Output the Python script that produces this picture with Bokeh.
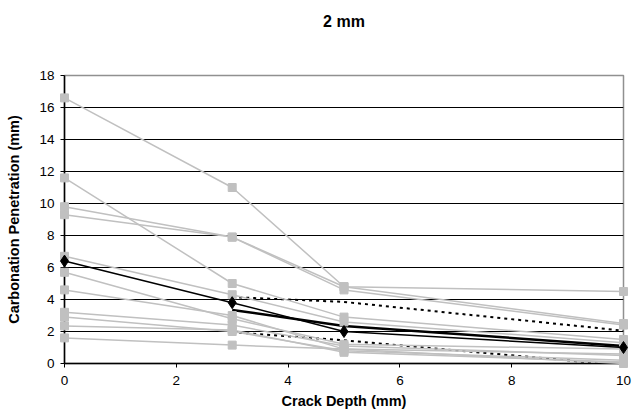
from bokeh.plotting import figure
from bokeh.models import Range1d, FixedTicker, Title
from bokeh.embed import file_html
from bokeh.resources import INLINE

# Crack depth (mm) at which carbonation was measured
crack_depth = [0, 3, 5, 10]

# Individual specimens: carbonation penetration (mm)
spec_01 = [16.6, 11.0, 4.8, 2.5]
spec_02 = [11.6, 5.0, 2.9, 1.5]
spec_03 = [9.8, 7.9, 4.8, 4.5]
spec_04 = [9.3, 7.9, 4.6, 2.4]
spec_05 = [6.7, 4.3, 2.6, 1.3]
spec_06 = [5.7, 2.8, 1.2, 0.9]
spec_07 = [4.6, 3.0, 0.9, 0.6]
spec_08 = [3.2, 2.4, 1.1, 0.5]
spec_09 = [2.9, 2.0, 0.8, 0.2]
spec_10 = [2.35, 2.1, 0.7, 0.1]
spec_11 = [1.6, 1.15, 0.9, 0.0]
specimens = [spec_01, spec_02, spec_03, spec_04, spec_05, spec_06,
             spec_07, spec_08, spec_09, spec_10, spec_11]

# Average of all specimens
mean_pen = [6.4, 3.8, 2.0, 1.0]

# Fitted curve and its band (from 3 mm crack depth onwards)
fit_depth = [3, 5, 10]
fit_pen = [3.35, 2.35, 1.1]
band_upper = [4.15, 3.85, 2.05]
band_lower = [1.95, 1.45, -0.12]

y_ticks = [0, 2, 4, 6, 8, 10, 12, 14, 16, 18]
x_ticks = [0, 2, 4, 6, 8, 10]

FONT = "Liberation Sans"
GREY = "#c0c0c0"

p = figure(width=637, height=413, output_backend="svg", toolbar_location=None,
           x_range=Range1d(0, 10), y_range=Range1d(0, 18),
           min_border_left=64, min_border_right=14,
           min_border_top=75, min_border_bottom=50,
           title="2 mm")

p.title.align = "center"
p.title.text_font = FONT
p.title.text_font_size = "16px"
p.title.text_font_style = "bold"
p.title.text_color = "black"
p.title.standoff = 10

# empty band that keeps the title clear of the plot area
p.add_layout(Title(text=" ", text_font_size="1px", standoff=38), "above")

p.background_fill_color = "white"
p.border_fill_color = "white"
p.outline_line_color = "#909090"
p.outline_line_width = 1.5

p.xgrid.visible = False
p.ygrid.ticker = FixedTicker(ticks=y_ticks[1:-1])
p.ygrid.grid_line_color = "black"
p.ygrid.grid_line_width = 1

for ax in (p.xaxis[0], p.yaxis[0]):
    ax.axis_line_color = "black"
    ax.axis_line_width = 1.5
    ax.major_tick_line_color = "black"
    ax.major_tick_in = 0
    ax.major_tick_out = 4
    ax.minor_tick_line_color = None
    ax.major_label_text_font = FONT
    ax.major_label_text_font_size = "13.5px"
    ax.major_label_text_color = "black"
    ax.axis_label_text_font = FONT
    ax.axis_label_text_font_style = "bold"
    ax.axis_label_text_font_size = "14.5px"
    ax.axis_label_text_color = "black"

p.xaxis.ticker = FixedTicker(ticks=x_ticks)
p.yaxis.ticker = FixedTicker(ticks=y_ticks)
p.xaxis.axis_label = "Crack Depth (mm)"
p.yaxis.axis_label = "Carbonation Penetration (mm)"
p.xaxis.major_label_standoff = 8
p.xaxis.axis_label_standoff = 5
p.yaxis.major_label_standoff = 6
p.yaxis.axis_label_standoff = 14

for s in specimens:
    r = p.line(crack_depth, s, line_color=GREY, line_width=1.5)
    r.level = "overlay"
for s in specimens:
    r = p.scatter(crack_depth, s, marker="square", size=8,
                  fill_color=GREY, line_color=GREY)
    r.level = "overlay"

for band in (band_upper, band_lower):
    p.line(fit_depth, band, line_color="black", line_width=2, line_dash="3 4")

p.line(fit_depth, fit_pen, line_color="black", line_width=2.5)

r = p.line(crack_depth, mean_pen, line_color="black", line_width=1.5)
r.level = "overlay"
r = p.scatter(crack_depth, mean_pen, marker="diamond", size=12,
              fill_color="black", line_color="black")
r.level = "overlay"

open("out.html", "w").write(file_html(p, INLINE))
